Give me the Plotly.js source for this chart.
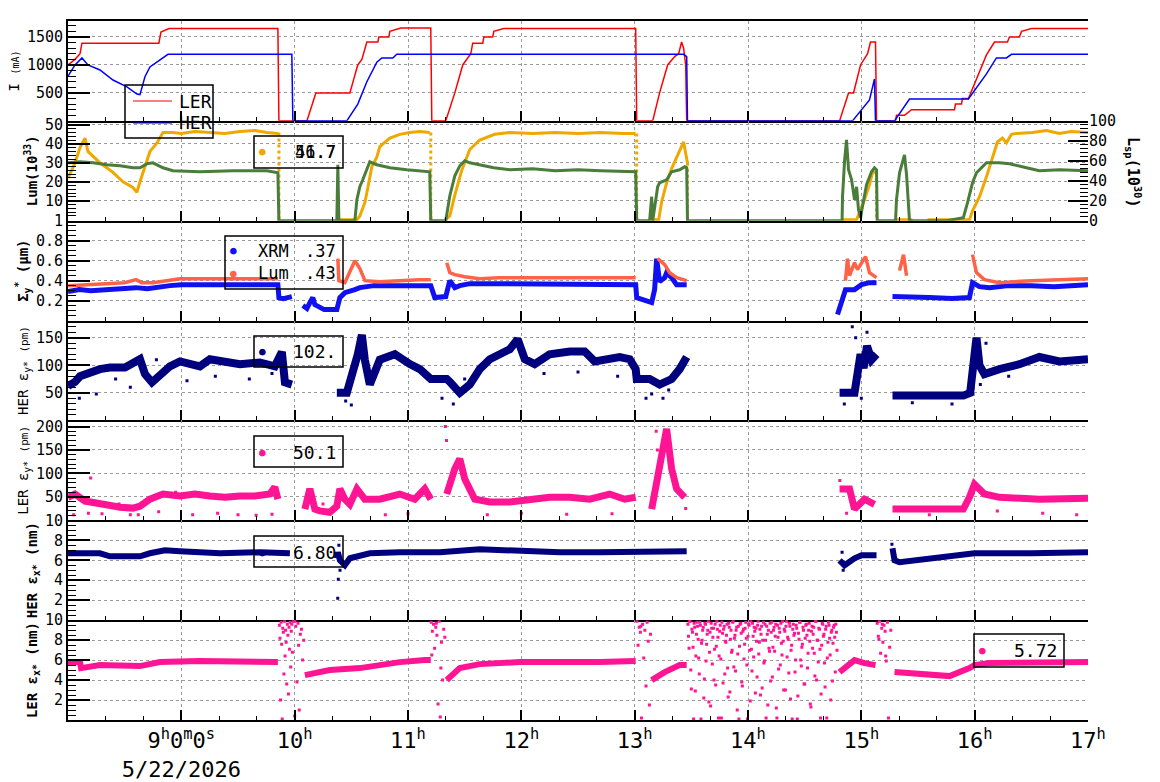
<!DOCTYPE html>
<html>
<head>
<meta charset="utf-8">
<script src="https://cdn.plot.ly/plotly-3.0.1.min.js"></script>
<style>html,body{margin:0;padding:0;background:#fff}#chart{width:1160px;height:782px}</style>
</head>
<body>
<div id="chart"></div>
<script>
// ---------- DATA (time in hours of 5/22/2026) ----------
// Panel 1: beam currents (mA)
const lerT = [8.000,8.062,8.106,8.123,8.802,8.820,8.891,9.852,9.861,10.108,10.187,10.487,10.522,10.557,10.593,10.637,10.734,10.743,10.831,10.840,10.937,11.201,11.210,11.333,11.413,11.483,11.554,11.571,11.660,11.669,11.748,11.757,11.845,13.009,13.018,13.159,13.220,13.291,13.353,13.388,13.414,13.432,13.450,13.459,14.808,14.887,14.931,14.993,15.055,15.081,15.125,15.134,15.302,15.310,15.381,15.443,15.822,15.831,15.884,15.892,15.945,16.025,16.104,16.175,16.289,16.307,16.395,16.413,16.501,17.000];
const lerI = [1000,1100,1200,1390,1390,1590,1650,1650,0,0,500,500,750,1000,1100,1410,1410,1500,1500,1600,1660,1660,0,0,500,1000,1200,1390,1390,1500,1500,1600,1650,1650,0,0,500,1000,1150,1200,1410,1300,1000,0,0,500,500,1000,1200,1410,1410,0,0,100,100,200,200,300,300,400,400,790,1180,1410,1410,1500,1500,1600,1650,1650];
const herT = [8.000,8.062,8.123,8.176,8.282,8.397,8.520,8.608,8.635,8.679,8.723,8.811,8.882,9.975,9.984,10.460,10.557,10.637,10.725,10.769,10.866,10.901,13.432,13.459,13.466,14.922,14.984,15.072,15.116,15.125,15.293,15.425,15.945,16.104,16.192,16.280,16.325,17.000];
const herI = [800,1000,1125,1000,910,730,607,480,470,790,965,1090,1190,1190,0,0,300,700,1050,1125,1125,1190,1190,1150,0,0,160,375,750,0,0,390,390,840,1125,1125,1190,1190];

// Panel 2: luminosity (10^33, left) and specific luminosity (10^30, right)
const lumT = [8.000,8.062,8.106,8.150,8.176,8.282,8.397,8.485,8.573,8.608,8.635,8.679,8.723,8.785,8.838,8.926,9.000,9.120,9.252,9.384,9.517,9.649,9.755,9.852,9.856,
  10.372,10.549,10.575,10.619,10.646,10.663,10.681,10.725,10.751,10.840,10.928,11.016,11.104,11.192,11.196,
  11.333,11.369,11.413,11.474,11.545,11.633,11.765,11.900,12.100,12.300,12.500,12.700,12.900,13.009,13.013,
  13.150,13.212,13.238,13.282,13.326,13.370,13.414,13.432,13.450,13.466,13.470,
  14.834,14.958,15.028,15.072,15.099,15.134,15.138,
  15.310,15.451,15.500,15.584,15.954,15.981,16.042,16.104,16.157,16.201,16.245,16.280,16.325,16.369,16.510,16.633,16.748,16.850,17.000];
const lumV = [22,30,38,43,36,30,25,20,17,14.5,20,28,36,40.5,46,46,45.5,46.5,46,45.5,46.5,47,46,45.5,null,
  0,0,2,9,17,22,28,33,38.5,43,45,46,46.5,46,null,
  0,2,13,26,37,42,45,46,45.5,46,45.5,46,45.5,45.5,null,
  0,0,9.5,19.5,27,33,38.5,41,35,30,null,
  0,0,10.5,18.5,25,25,null,
  0,0,null,0,0,4.7,12,22.6,33,41,43,40.5,45,45.5,46,47,45.5,46.5,46];
const lumDropT = [9.861,9.861,null,11.201,11.201,null,13.018,13.018,null,13.466,13.466,null,15.134,15.134];
const lumDropV = [46,0,null,46,0,null,45.5,0,null,30,0,null,25,0];
const lspT = [8.000,8.106,8.220,8.344,8.459,8.573,8.635,8.697,8.750,8.838,8.926,9.164,9.455,9.755,9.852,9.861,
  10.372,10.381,10.390,10.531,10.549,10.575,10.601,10.637,10.663,10.725,10.840,10.989,11.192,11.201,
  11.333,11.369,11.413,11.457,11.501,11.545,11.633,11.757,11.900,12.100,12.300,12.500,12.700,12.900,13.009,13.018,
  13.132,13.150,13.159,13.203,13.220,13.282,13.326,13.397,13.441,13.459,13.466,14.830,
  14.834,14.852,14.869,14.887,14.914,14.940,14.958,14.975,14.993,15.011,15.046,15.090,15.116,15.134,15.140,
  15.302,15.310,15.337,15.363,15.381,15.399,15.416,15.425,15.751,15.900,15.937,15.981,16.016,16.060,16.104,16.219,16.307,16.457,16.571,16.748,17.000];
const lspV = [58,59,58,56,55,53,53,57,58,53,50,49,50,50,48,0,
  0,56,0,0,21,34,41,51,59,56,53,51,49,0,
  0,25,45,55,60,58,56,53,51,52,50,51,50,49,49,0,
  0,24,0,34,38,41,49,51,54,53,0,0,
  24,60,81,51,41,21,34,11,3,15,36,49,53,51,0,
  0,21,48,58,66,46,11,0,0,3,18,38,48,53,58,58,57,53,50,51,50];

// Panel 3: vertical beam size (um)
const xrmT = [8.000,8.100,8.200,8.300,8.400,8.500,8.600,8.700,8.800,8.900,9.000,9.200,9.400,9.600,9.852,9.861,9.900,9.975,9.980,
  10.072,10.108,10.134,10.160,10.178,10.222,10.260,10.310,10.372,10.399,10.443,10.531,10.575,10.700,10.900,11.100,11.201,11.236,11.333,11.369,11.413,11.457,11.545,11.700,12.000,12.300,12.600,13.009,13.018,13.100,13.150,13.176,13.194,13.220,13.265,13.282,13.326,13.370,13.459,13.465,
  14.790,14.825,14.860,14.940,15.002,15.072,15.134,15.140,
  15.275,15.400,15.600,15.800,15.954,15.981,16.042,16.131,16.300,16.500,16.700,17.000];
const xrmV = [0.29,0.31,0.30,0.31,0.32,0.32,0.33,0.32,0.34,0.35,0.36,0.36,0.36,0.36,0.36,0.23,0.22,0.24,null,
  0.15,0.12,0.18,0.23,0.16,0.13,0.11,0.11,0.11,0.23,0.28,0.31,0.33,0.35,0.35,0.35,0.35,0.23,0.24,0.40,0.33,0.35,0.37,0.37,0.37,0.36,0.36,0.36,0.23,0.20,0.18,0.31,0.62,0.39,0.43,0.48,0.43,0.36,0.36,null,
  0.06,0.19,0.31,0.31,0.36,0.38,0.38,null,
  0.24,0.24,0.23,0.22,0.23,0.38,0.34,0.33,0.35,0.35,0.34,0.36];
const sigLumT = [8.000,8.200,8.400,8.500,8.600,8.650,8.750,8.850,8.988,9.200,9.500,9.852,9.856,
  10.381,10.390,10.443,10.531,10.575,10.620,10.750,10.900,11.100,11.201,11.205,
  11.342,11.369,11.413,11.500,11.633,11.800,12.100,12.400,12.700,13.009,13.013,
  13.203,13.265,13.309,13.370,13.459,13.463,
  14.860,14.878,14.896,14.940,14.966,15.037,15.072,15.134,15.138,
  15.337,15.372,15.399,15.403,
  15.981,16.016,16.086,16.219,16.500,17.000];
const sigLumV = [0.35,0.36,0.37,0.38,0.41,0.38,0.38,0.40,0.42,0.42,0.42,0.42,null,
  0.62,0.40,0.38,0.60,0.52,0.40,0.39,0.40,0.41,0.41,null,
  0.58,0.48,0.46,0.44,0.42,0.43,0.43,0.43,0.43,0.43,null,
  0.62,0.56,0.48,0.43,0.40,null,
  0.40,0.62,0.45,0.58,0.51,0.64,0.48,0.43,null,
  0.50,0.66,0.45,null,
  0.66,0.48,0.41,0.38,0.40,0.42];

// Panel 4: HER vertical emittance (pm)
const herEyT = [8.000,8.062,8.106,8.194,8.282,8.370,8.503,8.635,8.679,8.741,8.811,8.899,8.988,9.164,9.252,9.384,9.517,9.693,9.825,9.887,9.914,9.975,9.980,
  10.372,10.460,10.557,10.593,10.619,10.663,10.751,10.884,11.016,11.104,11.201,11.342,11.369,11.457,11.545,11.633,11.722,11.810,11.898,11.968,12.030,12.118,12.250,12.427,12.559,12.647,12.780,12.868,12.956,13.009,13.018,13.132,13.220,13.326,13.397,13.459,13.465,
  14.808,14.940,14.993,15.020,15.050,15.090,15.134,15.140,
  15.275,15.500,15.700,15.900,15.960,15.998,16.016,16.042,16.086,16.219,16.395,16.571,16.748,17.000];
const herEyV = [62,70,80,87,93,96,96,111,84,69,80,98,107,98,111,105,102,105,98,124,69,65,null,
  50,50,120,155,110,65,110,120,102,93,75,75,70,50,65,93,111,120,129,147,111,102,120,125,125,107,111,115,111,93,75,75,65,75,93,115,null,
  50,50,120,95,135,110,120,null,
  45,45,43,45,50,111,150,100,84,93,102,115,107,111];
const herEyOutT = [8.10,8.25,8.42,8.55,8.78,9.05,9.30,9.60,9.80,10.45,10.50,10.70,11.30,11.40,11.50,12.20,12.50,12.85,13.10,13.15,13.25,13.30,14.85,14.92,14.95,15.00,15.05,15.45,15.80,16.05,16.10,16.30];
const herEyOutV = [40,48,75,60,110,72,80,75,85,35,28,90,40,30,75,85,88,80,40,48,40,55,30,170,150,40,160,32,30,65,140,80];

// Panel 5: LER vertical emittance (pm)
const lerEyT = [8.000,8.062,8.150,8.282,8.459,8.573,8.635,8.723,8.838,8.988,9.120,9.252,9.384,9.517,9.649,9.781,9.825,9.852,9.856,
  10.090,10.134,10.178,10.222,10.310,10.372,10.399,10.443,10.487,10.549,10.619,10.751,10.928,11.060,11.148,11.201,11.205,
  11.342,11.413,11.457,11.501,11.589,11.722,11.898,12.074,12.250,12.427,12.603,12.780,12.912,13.009,13.013,
  13.150,13.203,13.238,13.282,13.326,13.370,13.441,13.445,
  14.808,14.896,14.940,15.028,15.116,15.120,
  15.275,15.500,15.700,15.900,15.954,15.998,16.086,16.219,16.571,17.000];
const lerEyV = [49,56,41,34,28,26,30,45,56,52,56,52,49,52,52,56,71,45,null,
  24,67,24,20,17,30,67,45,34,67,45,45,56,45,67,45,null,
  56,110,131,88,45,39,39,45,49,49,45,56,45,49,null,
  24,88,131,195,110,67,49,null,
  67,67,24,45,34,null,
  24,24,22,24,49,77,56,49,45,47];
const lerEyOutT = [8.05,8.18,8.20,8.30,8.45,8.55,8.62,8.80,8.95,9.10,9.32,9.50,9.66,9.80,10.25,10.80,11.00,11.33,11.34,11.70,12.00,12.40,12.80,13.19,13.20,13.45,14.81,14.87,15.60,16.20,16.60,16.90];
const lerEyOutV = [12,15,90,14,35,12,12,18,60,12,15,12,11,13,35,12,14,200,170,12,15,13,14,190,150,25,85,15,12,20,15,12];

// Panel 6: HER horizontal emittance (nm)
const herExT = [8.000,8.282,8.370,8.635,8.723,8.855,8.988,9.340,9.693,9.958,9.962,
  10.372,10.381,10.399,10.443,10.487,10.663,10.928,11.280,11.633,11.986,12.339,12.691,13.009,13.459,13.463,
  14.808,14.852,14.940,15.002,15.134,15.138,
  15.275,15.293,15.337,15.778,15.998,16.500,17.000];
const herExV = [6.7,6.7,6.4,6.4,6.7,7.0,6.9,6.7,6.8,6.7,null,
  6.2,6.8,6.0,5.5,6.2,6.7,6.8,6.8,7.1,6.9,6.8,6.8,6.9,6.9,null,
  6.0,5.5,6.2,6.5,6.5,null,
  7.2,6.0,5.8,6.3,6.7,6.7,6.8];
const herExOutT = [10.38,10.385,10.39,10.40,14.83,14.84,15.27];
const herExOutV = [2.2,4.1,7.5,5.0,6.8,5.0,7.6];

// Panel 7: LER horizontal emittance (nm)
const lerExT = [8.000,8.106,8.115,8.282,8.635,8.811,9.164,9.517,9.852,9.856,
  10.090,10.310,10.575,10.928,11.148,11.201,11.205,
  11.342,11.457,11.633,11.986,12.691,13.009,13.013,
  13.150,13.265,13.397,13.459,13.463,
  14.808,14.940,15.028,15.125,15.129,
  15.293,15.778,15.954,15.998,16.131,16.571,17.000];
const lerExV = [5.8,5.8,5.2,5.5,5.4,5.8,5.9,5.8,5.8,null,
  4.5,5.0,5.2,5.8,6.0,6.0,null,
  4.0,5.2,5.6,5.8,5.8,5.9,null,
  4.0,4.8,5.5,5.5,null,
  4.8,6.0,5.7,5.5,null,
  4.8,4.4,5.2,5.5,5.7,5.8,5.8];
const lerExCloudT = [
  9.865,9.870,9.875,9.880,9.885,9.890,9.895,9.900,9.905,9.910,9.915,9.920,9.925,9.930,9.935,9.940,9.945,9.950,9.955,9.960,9.965,9.970,9.975,9.980,9.990,10.000,10.010,10.020,10.030,10.040,10.050,10.060,10.070,10.080,10.002,10.035,
  11.205,11.215,11.225,11.235,11.245,11.255,11.265,11.275,11.285,11.295,11.305,11.315,11.325,11.210,11.250,11.290,
  13.02,13.03,13.04,13.05,13.06,13.07,13.08,13.09,13.10,13.11,13.12,13.13,13.14,13.055,
  15.14,15.15,15.16,15.17,15.18,15.19,15.20,15.21,15.22,15.23,15.24,15.25,15.26,15.155,15.185,15.215];
const lerExCloudV = [
  9.5,8.2,2.0,9.8,7.6,0.1,9.2,8.8,4.6,9.9,6.4,9.0,7.8,3.6,9.6,8.5,2.6,9.3,7.1,9.8,5.3,8.9,9.6,6.8,9.9,0.4,9.4,3.8,9.7,1.0,8.6,9.1,6.0,8.0,9.9,7.5,
  9.8,8.9,9.6,7.2,9.3,8.5,1.6,9.9,0.3,7.8,4.0,9.1,8.3,6.5,9.7,5.2,
  9.9,7.5,9.3,8.8,0.2,9.6,6.2,9.0,3.4,9.8,7.9,1.5,8.6,9.4,
  9.7,8.4,9.9,6.7,9.2,7.8,9.5,8.9,5.9,9.8,0.2,7.3,9.0,8.1,9.6,6.4];
const beamOffT1 = [13.47,13.48,13.49,13.50,13.51,13.52,13.53,13.54,13.55,13.56,13.57,13.58,13.59,13.60,13.61,13.62,13.63,13.64,13.65,13.66,13.67,13.68,13.69,13.70,13.71,13.72,13.73,13.74,13.75,13.76,13.77,13.78,13.79,13.80,13.81,13.82,13.83,13.84,13.85,13.86,13.87,13.88,13.89,13.90,13.91,13.92,13.93,13.94,13.95,13.96,13.97,13.98,13.99,14.00,14.01,14.02,14.03,14.04,14.05,14.06,14.07,14.08,14.09,14.10,14.11,14.12,14.13,14.14,14.15,14.16,14.17,14.18,14.19,14.20,14.21,14.22,14.23,14.24,14.25,14.26,14.27,14.28,14.29,14.30,14.31,14.32,14.33,14.34,14.35,14.36,14.37,14.38,14.39,14.40,14.41,14.42,14.43,14.44,14.45,14.46,14.47,14.48,14.49,14.50,14.51,14.52,14.53,14.54,14.55,14.56,14.57,14.58,14.59,14.60,14.61,14.62,14.63,14.64,14.65,14.66,14.67,14.68,14.69,14.70,14.71,14.72,14.73,14.74,14.75,14.76,14.77,14.78];
const beamOffV1 = [9.6,7.2,9.9,3.1,8.8,0.1,9.3,6.4,9.8,8.1,4.6,9.5,7.7,9.0,2.2,9.7,5.9,8.6,9.9,6.8,1.4,9.2,8.3,4.0,9.6,7.4,9.1,0.2,8.9,6.1,9.8,3.7,9.4,7.9,8.5,5.2,9.7,2.8,9.0,7.0,9.9,8.2,4.9,9.3,6.6,0.1,9.6,8.7,3.4,9.1,7.6,9.8,5.5,8.4,9.5,1.9,7.1,9.7,6.3,8.9,9.2,4.3,9.9,7.8,2.5,9.4,8.0,5.7,9.6,0.2,8.6,9.0,6.9,3.9,9.8,7.3,9.3,8.4,1.2,9.5,5.1,8.8,9.7,6.5,7.9,9.1,3.0,9.9,8.3,4.7,9.4,7.0,0.1,9.6,8.7,6.0,9.2,2.4,8.1,9.8,5.4,7.6,9.0,3.6,9.5,8.5,6.7,9.7,1.6,8.9,7.2,9.3,4.4,9.9,8.0,5.8,9.1,0.2,7.5,9.6,8.6,3.3,9.4,6.2,9.8,8.2,2.0,9.0,7.7,9.5,4.8,8.8];
const beamOffT2 = [13.475,13.485,13.495,13.505,13.515,13.525,13.535,13.545,13.555,13.565,13.575,13.585,13.595,13.605,13.615,13.625,13.635,13.645,13.655,13.665,13.675,13.685,13.695,13.705,13.715,13.725,13.735,13.745,13.755,13.765,13.775,13.785,13.795,13.805,13.815,13.825,13.835,13.845,13.855,13.865,13.875,13.885,13.895,13.905,13.915,13.925,13.935,13.945,13.955,13.965,13.975,13.985,13.995,14.005,14.015,14.025,14.035,14.045,14.055,14.065,14.075,14.085,14.095,14.105,14.115,14.125,14.135,14.145,14.155,14.165,14.175,14.185,14.195,14.205,14.215,14.225,14.235,14.245,14.255,14.265,14.275,14.285,14.295,14.305,14.315,14.325,14.335,14.345,14.355,14.365,14.375,14.385,14.395,14.405,14.415,14.425,14.435,14.445,14.455,14.465,14.475,14.485,14.495,14.505,14.515,14.525,14.535,14.545,14.555,14.565,14.575,14.585,14.595,14.605,14.615,14.625,14.635,14.645,14.655,14.665,14.675,14.685,14.695,14.705,14.715,14.725,14.735,14.745,14.755,14.765,14.775,14.785];
const beamOffV2 = [8.4,9.9,5.0,9.1,7.3,9.7,2.9,8.6,9.4,6.2,9.8,0.1,8.0,9.3,4.1,9.6,7.6,9.0,1.8,8.8,9.7,5.6,9.2,7.1,3.5,9.9,8.3,6.4,9.5,0.2,8.7,9.1,4.6,7.8,9.6,2.3,9.3,8.1,6.8,9.8,5.3,8.5,9.0,1.0,9.4,7.4,9.7,3.8,8.9,6.1,9.2,8.2,0.1,9.6,7.0,9.9,4.9,8.4,9.3,2.7,7.9,9.5,6.6,9.1,8.6,3.2,9.8,5.9,8.0,9.4,1.5,7.2,9.7,8.8,4.3,9.0,6.9,9.6,0.2,8.3,9.2,5.5,7.7,9.9,3.0,8.9,9.4,6.3,8.1,9.7,2.1,7.5,9.1,8.5,4.8,9.5,0.1,8.7,9.8,6.0,7.3,9.3,3.6,8.2,9.6,5.2,9.0,7.9,1.3,9.4,8.6,6.7,9.9,4.0,8.0,9.2,7.1,2.6,9.7,8.4,5.7,9.1,0.2,7.8,9.5,6.5,8.8,3.9,9.3,8.3,9.6,7.0];

// Axis tick labels
const hourTicks = [9,10,11,12,13,14,15,16,17];
const hourLabels = ['9<sup>h</sup>0<sup>m</sup>0<sup>s</sup><br>5/22/2026','10<sup>h</sup>','11<sup>h</sup>','12<sup>h</sup>','13<sup>h</sup>','14<sup>h</sup>','15<sup>h</sup>','16<sup>h</sup>','17<sup>h</sup>'];
// Legend readouts
const lumReadouts = ['56.7','41.7'];
const sigmaReadouts = [['XRM','.37'],['Lum','.43']];
const herEyReadout = '102.';
const lerEyReadout = '50.1';
const herExReadout = '6.80';
const lerExReadout = '5.72';

// ---------- STYLE ----------
const FONT = 'DejaVu Sans Mono';
const C = {ler:'#ff0000', her:'#0000ff', lum:'#f0a800', lsp:'#4a7c3a', xrm:'#1010f0', slum:'#ff6347', navy:'#00007f', pink:'#ff1493'};
const N = 7;
const W = 1160, H = 782, ML = 68, MR = 72, MT = 21, MB = 62;
const PW = W - ML - MR, PH = H - MT - MB;
const px = x => (x - ML) / PW;
const py = y => (H - MB - y) / PH;

function dom(k){ return [1 - k / N, 1 - (k - 1) / N]; }
function ax(k){ return k === 1 ? '' : String(k); }

const traces = [];
function line(x, y, k, color, width, extra){
  traces.push(Object.assign({x:x, y:y, xaxis:'x'+ax(k), yaxis:'y'+ax(k), type:'scatter', mode:'lines',
    line:{color:color, width:width}, connectgaps:false, hoverinfo:'skip', showlegend:false}, extra||{}));
}
function dots(x, y, k, color, size){
  traces.push({x:x, y:y, xaxis:'x'+ax(k), yaxis:'y'+ax(k), type:'scatter', mode:'markers',
    marker:{color:color, size:size, symbol:'square'}, hoverinfo:'skip', showlegend:false});
}

line(lerT, lerI, 1, C.ler, 1.5);
line(herT, herI, 1, C.her, 1.5);

traces.push({x:lspT, y:lspV, xaxis:'x2', yaxis:'y8', type:'scatter', mode:'lines', line:{color:C.lsp, width:3}, connectgaps:false, hoverinfo:'skip', showlegend:false});
line(lumT, lumV, 2, C.lum, 3);
line(lumDropT, lumDropV, 2, C.lum, 3, {line:{color:C.lum, width:3, dash:'dot'}});

line(xrmT, xrmV, 3, C.xrm, 5);
line(sigLumT, sigLumV, 3, C.slum, 3.5);

line(herEyT, herEyV, 4, C.navy, 8);
dots(herEyOutT, herEyOutV, 4, C.navy, 3);

line(lerEyT, lerEyV, 5, C.pink, 7);
dots(lerEyOutT, lerEyOutV, 5, C.pink, 3);

line(herExT, herExV, 6, C.navy, 6);
dots(herExOutT, herExOutV, 6, C.navy, 3);

line(lerExT, lerExV, 7, C.pink, 6);
dots(lerExCloudT, lerExCloudV, 7, C.pink, 3);
dots(beamOffT1, beamOffV1, 7, C.pink, 3);
dots(beamOffT2, beamOffV2, 7, C.pink, 3);

// ---------- AXES ----------
const grid = {showgrid:true, gridcolor:'#9a9a9a', griddash:'dot', gridwidth:1};
const layout = {
  width:W, height:H, margin:{l:ML, r:MR, t:MT, b:MB}, paper_bgcolor:'#fff', plot_bgcolor:'#fff',
  showlegend:false, font:{family:FONT, color:'#000', size:15},
  shapes:[], annotations:[]
};
for (let k = 1; k <= N; k++){
  const xa = Object.assign({domain:[0,1], range:[8,17], anchor:'y'+ax(k), tickmode:'array', tickvals:hourTicks,
    ticktext:hourLabels, showticklabels:k === N, ticks:'inside', ticklen:10, tickwidth:2, tickcolor:'#000',
    minor:{dtick:1/3, tick0:8, ticks:'inside', ticklen:4, tickwidth:1, tickcolor:'#000', showgrid:false},
    showline:true, linecolor:'#000', linewidth:2, mirror:k === 1, zeroline:false,
    tickfont:{family:FONT, size:22}, fixedrange:true}, grid);
  if (k > 1) xa.matches = 'x';
  layout['xaxis'+ax(k)] = xa;
}
function yax(k, range, tv, tt, minorD, title){
  layout['yaxis'+ax(k)] = Object.assign({domain:dom(k), range:range, anchor:'x'+ax(k), tickmode:'array', tickvals:tv, ticktext:tt,
    ticks:'inside', ticklen:22, tickwidth:2, tickcolor:'#000',
    minor:{dtick:minorD, ticks:'inside', ticklen:8, tickwidth:1, tickcolor:'#000', showgrid:false},
    showline:true, linecolor:'#000', linewidth:2, mirror:false, zeroline:false,
    tickfont:{family:FONT, size:15}, title:{text:title, font:{family:FONT, size:14}, standoff:4}, fixedrange:true}, grid);
}
yax(1, [0,1786], [500,1000,1500], ['500','1000','1500'], 100, "I <span style='font-size:10px'>(mA)</span>");
yax(2, [-0.5,52.1], [10,20,30,40,50], ['10','20','30','40','50'], 2, '<b>Lum(10<sup>33</sup>)</b>');
yax(3, [0,1.0005], [0.2,0.4,0.6,0.8,1], ['0.2','0.4','0.6','0.8','1'], 0.05, '<b>Σ<sub>y</sub><sup>*</sup> (μm)</b>');
yax(4, [0,181], [50,100,150], ['50','100','150'], 10, "HER ε<sub>y*</sub> <span style='font-size:11px'>(pm)</span>");
yax(5, [0,213], [50,100,150,200], ['50','100','150','200'], 10, "LER ε<sub>y*</sub> <span style='font-size:11px'>(pm)</span>");
yax(6, [0,10.005], [2,4,6,8,10], ['2','4','6','8','10'], 0.5, '<b>HER ε<sub>x*</sub> (nm)</b>');
yax(7, [0,10.005], [2,4,6,8,10], ['2','4','6','8','10'], 0.5, '<b>LER ε<sub>x*</sub> (nm)</b>');
layout.yaxis8 = {overlaying:'y2', side:'right', anchor:'x2', range:[0,100], tickmode:'array', tickvals:[0,20,40,60,80,100],
  ticks:'inside', ticklen:20, tickwidth:2, tickcolor:'#000', minor:{dtick:4, ticks:'inside', ticklen:8, tickwidth:1, tickcolor:'#000'},
  showline:false, showgrid:false, zeroline:false, tickfont:{family:FONT, size:15}, fixedrange:true};

// ---------- LEGEND BOXES ----------
const S = layout.shapes, A = layout.annotations;
function box(x0, y0, x1, y1){
  S.push({type:'rect', xref:'paper', yref:'paper', x0:px(x0), x1:px(x1), y0:py(y1), y1:py(y0), line:{color:'#000', width:1.5}, layer:'above'});
}
function txt(x, y, text, anchor, size, color){
  A.push({xref:'paper', yref:'paper', x:px(x), y:py(y), text:text, showarrow:false, xanchor:anchor, yanchor:'middle',
    font:{family:FONT, size:size, color:color||'#000'}});
}
function dot(x, y, color){ txt(x, y, '●', 'center', 11, color); }

box(125, 85, 213, 138);
S.push({type:'line', xref:'paper', yref:'paper', x0:px(133), x1:px(172), y0:py(101), y1:py(101), line:{color:C.ler, width:1}, layer:'above'});
S.push({type:'line', xref:'paper', yref:'paper', x0:px(133), x1:px(172), y0:py(123), y1:py(123), line:{color:C.her, width:1}, layer:'above'});
txt(177, 101, 'LER', 'left', 18);
txt(177, 123, 'HER', 'left', 18);

box(254, 136, 343, 168);
dot(262, 152, C.lum);
txt(338, 152, lumReadouts[0], 'right', 17);
txt(338, 152, lumReadouts[1], 'right', 17);

box(225, 236, 343, 289);
dot(233, 251, C.xrm);
dot(233, 273, C.slum);
txt(256, 251, sigmaReadouts[0][0], 'left', 17);
txt(338, 251, sigmaReadouts[0][1], 'right', 17);
txt(256, 273, sigmaReadouts[1][0], 'left', 17);
txt(338, 273, sigmaReadouts[1][1], 'right', 17);

box(254, 336, 343, 367);
dot(262, 352, C.navy);
txt(338, 352, herEyReadout, 'right', 18);

box(254, 436, 343, 467);
dot(262, 452, C.pink);
txt(338, 452, lerEyReadout, 'right', 18);

box(254, 536, 343, 567);
dot(262, 552, C.navy);
txt(338, 552, herExReadout, 'right', 18);

box(974, 634, 1064, 667);
dot(982, 650, C.pink);
txt(1059, 650, lerExReadout, 'right', 18);

// right-hand axis title
A.push({xref:'paper', yref:'paper', x:px(1133), y:py(172), text:'<b>L<sub>sp</sub>(10<sup>30</sup>)</b>', textangle:90,
  showarrow:false, xanchor:'center', yanchor:'middle', font:{family:FONT, size:15}});

Plotly.newPlot('chart', traces, layout, {staticPlot:true, displayModeBar:false});
</script>
</body>
</html>
